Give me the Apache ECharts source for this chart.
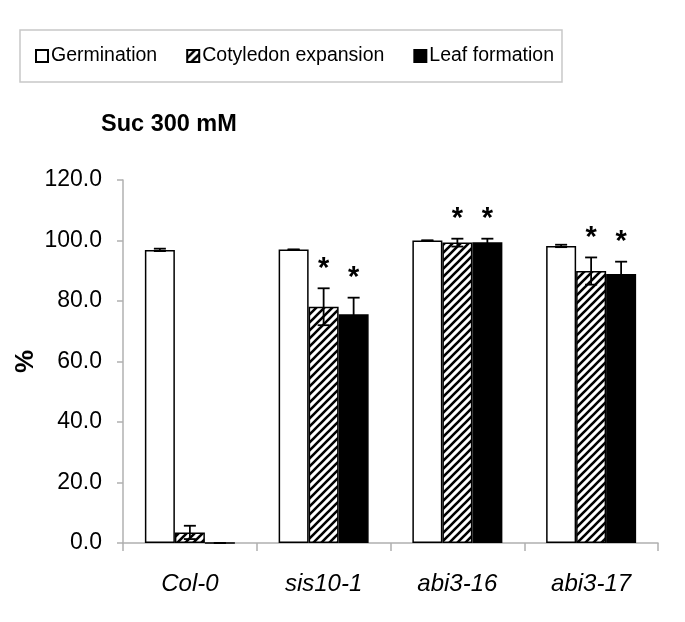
<!DOCTYPE html>
<html><head><meta charset="utf-8">
<script src="https://cdn.jsdelivr.net/npm/echarts@6/dist/echarts.min.js"></script>
<style>html,body{margin:0;padding:0;background:#fff}#c{width:685px;height:622px}</style>
</head><body><div id="c"></div>
<script>
var categories = ['Col-0', 'sis10-1', 'abi3-16', 'abi3-17'];
var seriesNames = ['Germination', 'Cotyledon expansion', 'Leaf formation'];
var germination = [96.9, 97.0, 100.0, 98.2];
var germinationErr = [0.4, 0, 0, 0.4];
var cotyledon = [3.5, 78.1, 99.3, 89.9];
var cotyledonErr = [2.2, 6.1, 1.3, 4.5];
var leaf = [0, 75.6, 99.4, 88.9];
var leafErr = [0, 5.5, 1.2, 4.1];
var cotyledonSig = [false, true, true, true];
var leafSig = [false, true, true, true];
var yTicks = [0, 20, 40, 60, 80, 100, 120];

var FONT = '"Liberation Sans", Arial, Helvetica, sans-serif';

function hatch() {
  var c = document.createElement('canvas');
  c.width = 8; c.height = 8;
  var g = c.getContext('2d');
  g.fillStyle = '#fff'; g.fillRect(0, 0, 8, 8);
  g.strokeStyle = '#000'; g.lineWidth = 2.6;
  g.beginPath();
  g.moveTo(-2, 10); g.lineTo(10, -2);
  g.moveTo(-6, 6); g.lineTo(6, -6);
  g.moveTo(2, 14); g.lineTo(14, 2);
  g.stroke();
  return c;
}
var hatchColor = { image: hatch(), repeat: 'repeat' };

var values = [germination, cotyledon, leaf];
var errs = [germinationErr, cotyledonErr, leafErr];
var sigs = [[false, false, false, false], cotyledonSig, leafSig];
var fills = ['#ffffff', hatchColor, '#000000'];

var errData = [];
for (var s = 0; s < 3; s++) {
  for (var i = 0; i < categories.length; i++) {
    errData.push([i, s, values[s][i], errs[s][i], sigs[s][i] ? 1 : 0]);
  }
}

var BW = 30;
var series = [];
for (var s2 = 0; s2 < 3; s2++) {
  series.push({
    name: seriesNames[s2],
    type: 'bar',
    data: values[s2],
    barWidth: BW,
    barGap: '0%',
    itemStyle: { color: fills[s2], borderColor: '#000', borderWidth: 1.5 },
    emphasis: { disabled: true },
    z: 2
  });
}
series.push({
  type: 'custom',
  data: errData,
  z: 5,
  silent: true,
  renderItem: function (params, api) {
    var ci = api.value(0), si = api.value(1), v = api.value(2), e = api.value(3), sg = api.value(4);
    var c = api.coord([ci, v]);
    var x = c[0] + (si - 1) * BW;
    var top = api.coord([ci, v + e])[1];
    var bot = api.coord([ci, v - e])[1];
    var hw = 6;
    var st = { stroke: '#000', lineWidth: 1.8 };
    var children = [
      { type: 'line', shape: { x1: x, y1: top, x2: x, y2: bot }, style: st },
      { type: 'line', shape: { x1: x - hw, y1: top, x2: x + hw, y2: top }, style: st },
      { type: 'line', shape: { x1: x - hw, y1: bot, x2: x + hw, y2: bot }, style: st }
    ];
    if (sg) {
      children.push({ type: 'text', style: { text: '*', x: x, y: top - 5, align: 'center', verticalAlign: 'bottom', font: 'bold 29px ' + FONT, fill: '#000' } });
    }
    return { type: 'group', children: children };
  }
});

var chart = echarts.init(document.getElementById('c'), null, { renderer: 'canvas' });
chart.setOption({
  backgroundColor: '#fff',
  animation: false,
  title: {
    text: 'Suc 300 mM', left: 96, top: 108,
    textStyle: { fontFamily: FONT, fontWeight: 'bold', fontSize: 23.5, color: '#000' }
  },
  legend: {
    data: seriesNames,
    left: 20, top: 30,
    orient: 'horizontal',
    padding: [16, 8, 16, 15],
    itemWidth: 12, itemHeight: 12, itemGap: 29,
    borderColor: '#c8c8c8', borderWidth: 1.5,
    icon: 'rect',
    selectedMode: false,
    textStyle: { fontFamily: FONT, fontSize: 19.5, color: '#000', padding: [0, 0, 0, -2] }
  },
  grid: { left: 123, right: 27, top: 180, bottom: 79, containLabel: false, outerBoundsMode: 'none' },
  xAxis: {
    type: 'category',
    data: categories,
    axisLine: { lineStyle: { color: '#b0b0b0', width: 1.5 } },
    axisTick: { show: true, length: 8, alignWithLabel: false, lineStyle: { color: '#b0b0b0', width: 1.5 } },
    axisLabel: { margin: 29, fontFamily: FONT, fontStyle: 'italic', fontSize: 24, color: '#000' }
  },
  yAxis: {
    type: 'value',
    min: yTicks[0], max: yTicks[yTicks.length - 1], interval: 20,
    name: '%', nameLocation: 'middle', nameGap: 84, nameRotate: 90, nameMoveOverlap: false,
    nameTextStyle: { fontFamily: FONT, fontWeight: 'bold', fontSize: 26, color: '#000' },
    splitLine: { show: false },
    axisLine: { show: true, lineStyle: { color: '#b0b0b0', width: 1.5 } },
    axisTick: { show: true, length: 6, lineStyle: { color: '#b0b0b0', width: 1.5 } },
    axisLabel: { margin: 21, fontFamily: FONT, fontSize: 23, color: '#000', formatter: function (v) { return v.toFixed(1); } }
  },
  series: series
});
</script></body></html>
